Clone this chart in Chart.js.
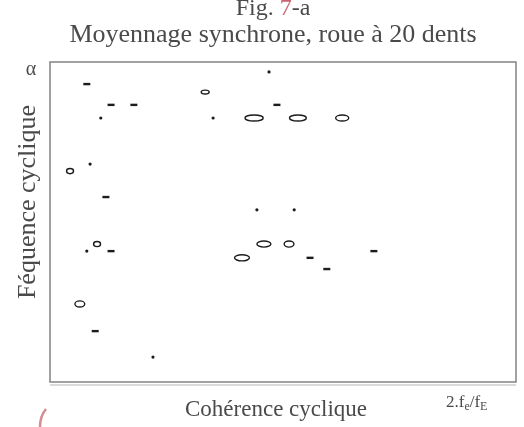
<!DOCTYPE html>
<html>
<head>
<meta charset="utf-8">
<script src="https://cdn.jsdelivr.net/npm/chart.js@4"></script>
<style>
  html, body { margin: 0; padding: 0; background: #fff; }
  #wrap { width: 524px; height: 427px; }
</style>
</head>
<body>
<div id="wrap"><canvas id="c" width="524" height="427"></canvas></div>
<script>
// ── Data (x : fraction of 2.fe/fE, y : fraction of α) ─────────
const dotX  = [0.470, 0.109, 0.350, 0.086, 0.444, 0.524, 0.079, 0.221];
const dotY  = [0.969, 0.825, 0.825, 0.681, 0.538, 0.538, 0.409, 0.078];

const dashX = [0.079, 0.131, 0.180, 0.487, 0.120, 0.131, 0.097, 0.695, 0.558, 0.594];
const dashY = [0.931, 0.866, 0.866, 0.866, 0.578, 0.409, 0.159, 0.409, 0.388, 0.353];

// closed contours: centre, extent along x and y (data units)
const ringX = [0.333, 0.438, 0.532, 0.627, 0.043, 0.101, 0.459, 0.513, 0.412, 0.064];
const ringY = [0.906, 0.825, 0.825, 0.825, 0.659, 0.431, 0.431, 0.431, 0.388, 0.244];
const ringW = [0.017, 0.039, 0.036, 0.028, 0.015, 0.015, 0.030, 0.021, 0.032, 0.021];
const ringH = [0.012, 0.019, 0.019, 0.019, 0.016, 0.016, 0.019, 0.019, 0.019, 0.019];

const INK = '#1c1c1c';
const TXT = '#4a4a4a';
const SERIF = '"Liberation Serif", "DejaVu Serif", serif';

const pts = (xs, ys) => xs.map((x, i) => ({ x, y: ys[i] }));

// ── Contours plugin ───────────────────────────────────────────
const rings = {
  id: 'rings',
  afterDatasetsDraw(chart) {
    const { ctx, scales: { x, y } } = chart;
    ctx.save();
    ctx.strokeStyle = INK;
    ctx.lineWidth = 1.4;
    ringX.forEach((v, i) => {
      const cx = x.getPixelForValue(v);
      const cy = y.getPixelForValue(ringY[i]);
      const rx = Math.abs(x.getPixelForValue(v + ringW[i] / 2) - cx);
      const ry = Math.abs(y.getPixelForValue(ringY[i] + ringH[i] / 2) - cy);
      ctx.beginPath();
      ctx.ellipse(cx, cy, rx, ry, 0, 0, Math.PI * 2);
      ctx.stroke();
    });
    ctx.restore();
  }
};

// ── Frame + texts ─────────────────────────────────────────────
const decor = {
  id: 'decor',
  beforeDatasetsDraw(chart) {
    const { ctx, chartArea: a } = chart;
    ctx.save();
    ctx.strokeStyle = '#8a8a8a';
    ctx.lineWidth = 1.6;
    ctx.strokeRect(a.left, a.top, a.right - a.left, a.bottom - a.top);
    ctx.strokeStyle = '#b5b5b5';
    ctx.lineWidth = 1;
    ctx.beginPath();
    ctx.moveTo(a.left, a.bottom + 3);
    ctx.lineTo(a.right, a.bottom + 3);
    ctx.stroke();
    ctx.restore();
  },
  afterDraw(chart) {
    const { ctx } = chart;
    ctx.save();
    ctx.fillStyle = TXT;
    ctx.textBaseline = 'alphabetic';

    // title line 1 : Fig. 7-a (the 7 is covered by a red mark)
    ctx.font = '24px ' + SERIF;
    const p1 = 'Fig. ', p2 = '7', p3 = '-a';
    const w1 = ctx.measureText(p1).width, w2 = ctx.measureText(p2).width, w3 = ctx.measureText(p3).width;
    let tx = 273 - (w1 + w2 + w3) / 2;
    ctx.textAlign = 'left';
    ctx.fillText(p1, tx, 15);
    ctx.fillStyle = '#c86470';
    ctx.fillText(p2, tx + w1, 15);
    ctx.fillStyle = TXT;
    ctx.fillText(p3, tx + w1 + w2, 15);

    // title line 2
    ctx.textAlign = 'center';
    ctx.font = '26px ' + SERIF;
    ctx.fillText('Moyennage synchrone, roue à 20 dents', 273, 42);

    // x axis title
    ctx.font = '23px ' + SERIF;
    ctx.fillText('Cohérence cyclique', 276, 416);

    // 2.fe/fE at right end
    ctx.textAlign = 'left';
    let ux = 446;
    const parts = [['2.f', 17, 0], ['e', 12, 3], ['/f', 17, 0], ['E', 12, 3]];
    parts.forEach(([s, size, dy]) => {
      ctx.font = size + 'px ' + SERIF;
      ctx.fillText(s, ux, 407 + dy);
      ux += ctx.measureText(s).width;
    });

    // alpha at top of y axis
    ctx.textAlign = 'center';
    ctx.font = '20px ' + SERIF;
    ctx.fillText('α', 31, 75);

    // y axis title
    ctx.translate(35, 202);
    ctx.rotate(-Math.PI / 2);
    ctx.font = '26px ' + SERIF;
    ctx.fillText('Féquence cyclique', 0, 0);
    ctx.setTransform(1, 0, 0, 1, 0, 0);

    // red pen mark bottom-left
    ctx.strokeStyle = 'rgba(205,110,120,0.8)';
    ctx.lineWidth = 2.5;
    ctx.beginPath();
    ctx.moveTo(46, 409);
    ctx.quadraticCurveTo(40, 416, 40, 427);
    ctx.stroke();
    ctx.restore();
  }
};

new Chart(document.getElementById('c'), {
  type: 'scatter',
  data: {
    datasets: [
      {
        label: 'points',
        data: pts(dotX, dotY),
        pointStyle: 'circle',
        pointRadius: 1.6,
        backgroundColor: INK,
        borderColor: INK,
        borderWidth: 0
      },
      {
        label: 'traits',
        data: pts(dashX, dashY),
        pointStyle: 'line',
        pointRadius: 3.5,
        borderColor: INK,
        borderWidth: 2.4
      },
      {
        label: 'contours',
        data: pts(ringX, ringY),
        pointRadius: 0
      }
    ]
  },
  options: {
    responsive: false,
    animation: false,
    events: [],
    layout: { padding: { left: 50, top: 62, right: 8, bottom: 45 } },
    plugins: { legend: { display: false }, tooltip: { enabled: false } },
    scales: {
      x: { type: 'linear', min: 0, max: 1, display: false },
      y: { type: 'linear', min: 0, max: 1, display: false }
    }
  },
  plugins: [decor, rings]
});
</script>
</body>
</html>
